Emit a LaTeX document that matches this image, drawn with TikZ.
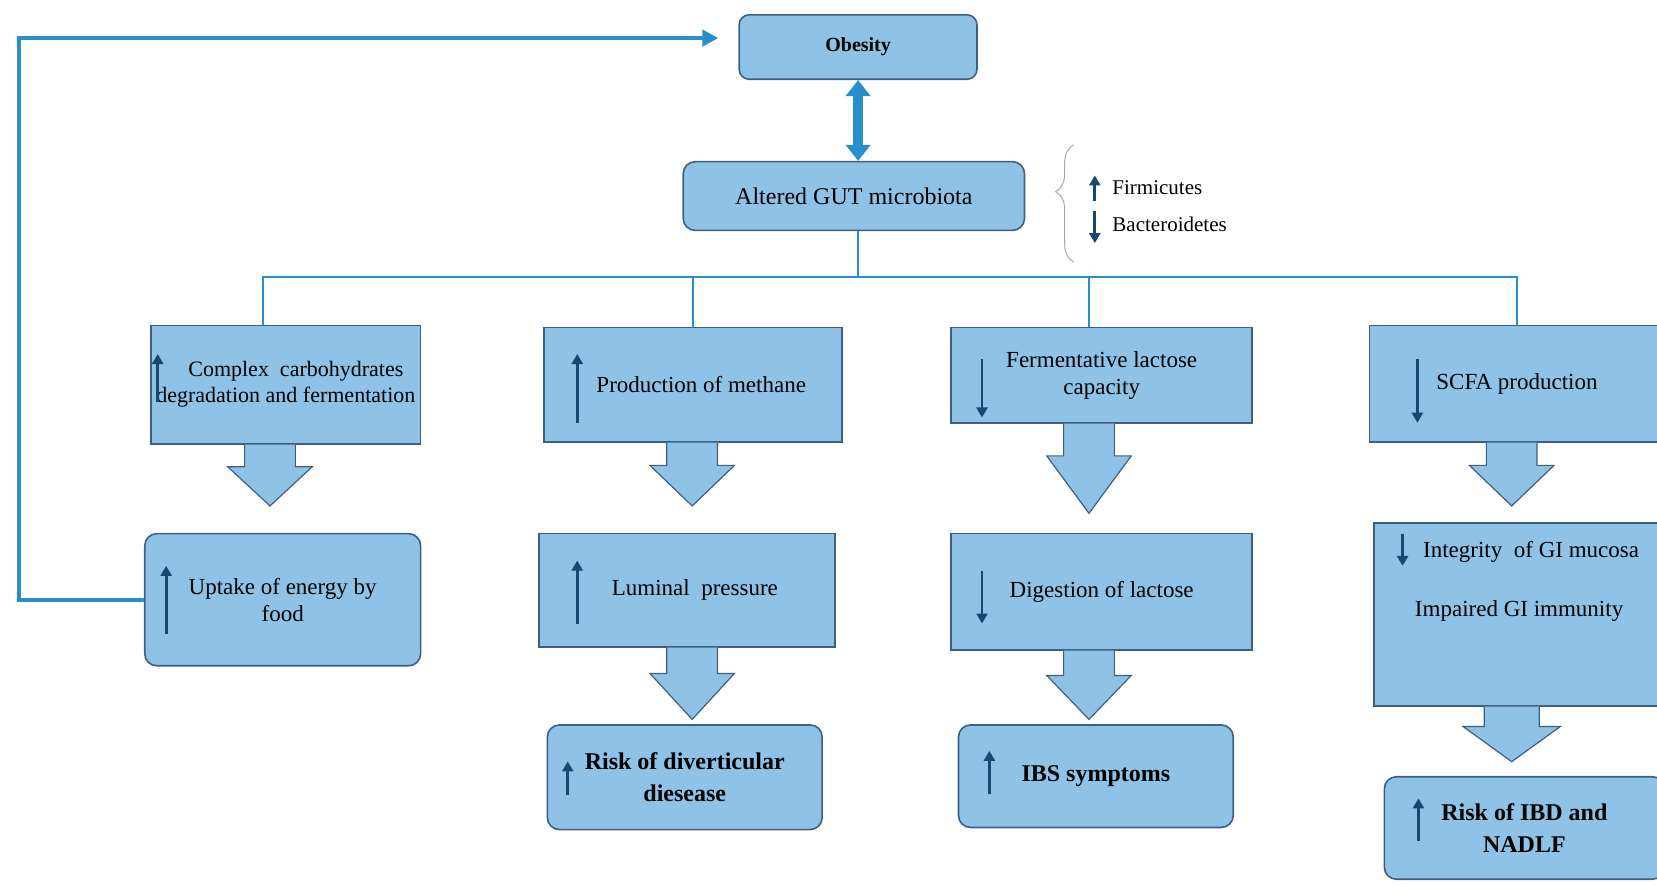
\documentclass[tikz,border=0pt]{standalone}
\usepackage{fontspec}
\setmainfont{Liberation Serif}
\usepackage{xcolor}
\usepackage{tikz}
\usetikzlibrary{positioning,arrows.meta,calc,decorations.pathreplacing}

\definecolor{boxfill}{RGB}{142,194,230}
\definecolor{boxline}{RGB}{62,96,128}
\definecolor{linkblue}{RGB}{40,142,204}
\definecolor{navy}{RGB}{22,72,112}

\def\px{0.5284pt}

\tikzset{
  box/.style={draw=boxline,fill=boxfill,line width=0.8pt,align=center,inner sep=2pt,
    font=\fontsize{11.5}{13.5}\selectfont},
  rbox/.style={box,rounded corners=6pt},
  tree/.style={draw=linkblue,line width=1.1pt},
  feed/.style={draw=linkblue,line width=2pt,-{Triangle[length=8pt,width=8pt]}},
  twoway/.style={draw=linkblue,line width=5pt,{Triangle[length=8pt,width=12pt]}-{Triangle[length=8pt,width=12pt]}},
  upmark/.style={draw=navy,line width=1.4pt,-{Triangle[length=5pt,width=5.5pt]}},
  blockarr/.style={fill=boxfill,draw=boxline,line width=0.6pt}
}

% block arrow under a box: node, x offset, length, shaft and head half widths
\newcommand{\blockarrow}[5]{%
  \begin{scope}[shift={($(#1.south)+(#2,0)$)}]
    \filldraw[blockarr] (-#4,0) -- (-#4,0.36*#3) -- (-#5,0.36*#3) -- (0,#3)
      -- (#5,0.36*#3) -- (#4,0.36*#3) -- (#4,0);
  \end{scope}}

\begin{document}
\begin{tikzpicture}[x=\px,y=-\px]
  \useasboundingbox (0,0) rectangle (1568,837);
  \clip (0,0) rectangle (1568,837);

  % top
  \node[box,rounded corners=5pt,minimum width=225*\px,minimum height=61*\px,
    font=\fontsize{10}{12}\bfseries] (obesity) at (812,44.5) {Obesity};
  \node[box,rounded corners=6pt,minimum width=323*\px,minimum height=65*\px,
    font=\fontsize{12}{14}\selectfont] (altered) at (808,185.5) {Altered GUT microbiota};
  \draw[twoway] (obesity.south) -- (obesity.south |- altered.north);

  % phyla
  \draw[gray!70,line width=0.5pt,decorate,decoration={brace,amplitude=9pt,aspect=0.6}]
    (1016,248) -- (1016,137);
  \node[anchor=west,font=\fontsize{10.5}{12}\selectfont] (firm) at (1046,178) {Firmicutes};
  \node[anchor=west,font=\fontsize{10.5}{12}\selectfont] (bact) at (1046,212) {Bacteroidetes};
  \draw[upmark] ($(firm.west)+(-10,12)$) -- ++(0,-24);
  \draw[upmark] ($(bact.west)+(-10,-12)$) -- ++(0,30);

  % first row
  \node[box,minimum width=255*\px,minimum height=112*\px,font=\fontsize{11}{13}\selectfont]
    (carb) at (270.5,364)
    {\hspace*{10pt}Complex \ carbohydrates\\degradation and fermentation};
  \node[box,minimum width=282*\px,minimum height=108*\px] (meth) at (656,364)
    {\hspace*{8pt}Production of methane};
  \node[box,minimum width=285*\px,minimum height=90*\px] (ferm) at (1042.5,355)
    {Fermentative lactose\\capacity};
  \node[box,minimum width=279*\px,minimum height=110*\px] (scfa) at (1435.5,363)
    {SCFA production};

  \coordinate (bus) at (812,262);
  \draw[tree] (obesity.south |- altered.south) -- (bus);
  \draw[tree] ($(carb.north)+(-22,0)$) |- (bus);
  \draw[tree] (meth.north) |- (bus);
  \draw[tree] ($(ferm.north)+(-12,0)$) |- (bus);
  \draw[tree] (scfa.north) |- (bus);

  \draw[upmark] ($(carb.west)+(7,16)$) -- ++(0,-45);
  \draw[upmark] ($(meth.west)+(32,36)$) -- ++(0,-65);
  \draw[upmark] ($(ferm.west)+(30,-15)$) -- ++(0,55);
  \draw[upmark] ($(scfa.west)+(46,-23)$) -- ++(0,60);

  % second row
  \node[rbox,minimum width=261*\px,minimum height=125*\px] (uptake) at (267.5,567.5)
    {Uptake of energy by\\food};
  \node[box,minimum width=280*\px,minimum height=107*\px] (lumen) at (650,558.5)
    {\hspace*{8pt}Luminal \ pressure};
  \node[box,minimum width=285*\px,minimum height=110*\px] (digest) at (1042.5,560)
    {Digestion of lactose};
  \node[box,minimum width=275*\px,minimum height=173*\px] (integ) at (1437.5,581.5)
    {\hspace*{12pt}Integrity \ of GI mucosa\\[16pt]Impaired GI immunity\\[22pt]\mbox{}};

  \draw[upmark] ($(uptake.west)+(21,32)$) -- ++(0,-64);
  \draw[upmark] ($(lumen.west)+(37,32)$) -- ++(0,-60);
  \draw[upmark] ($(digest.west)+(30,-20)$) -- ++(0,50);
  \draw[upmark] ($(integ.west)+(28,-76)$) -- ++(0,30);

  % third row
  \node[rbox,minimum width=260*\px,minimum height=99*\px,
    font=\fontsize{12}{16}\bfseries] (risk) at (648,735.5)
    {Risk of diverticular\\diesease};
  \node[rbox,minimum width=260*\px,minimum height=97*\px,
    font=\fontsize{12}{16}\bfseries] (ibs) at (1037,734.5) {IBS symptoms};
  \node[rbox,minimum width=265*\px,minimum height=97*\px,
    font=\fontsize{12}{16}\bfseries] (nafld) at (1442.5,783.5)
    {Risk of IBD and\\NADLF};

  \draw[upmark] ($(risk.west)+(20,17)$) -- ++(0,-32);
  \draw[upmark] ($(ibs.west)+(30,17)$) -- ++(0,-41);
  \draw[upmark] ($(nafld.west)+(33,12)$) -- ++(0,-40);

  % block arrows
  \blockarrow{carb}{-15}{58}{24}{40}
  \blockarrow{meth}{-1}{60}{24}{40}
  \blockarrow{ferm}{-12}{85}{24}{40}
  \blockarrow{scfa}{-5}{60}{24}{40}
  \blockarrow{lumen}{5}{68}{24}{40}
  \blockarrow{digest}{-12}{65}{24}{40}
  \blockarrow{integ}{-7}{52}{26}{46}

  % feedback to obesity
  \coordinate (fbcorner) at (18,36);
  \draw[feed,shorten >=10pt] (uptake.west) -| (fbcorner) -- (fbcorner -| obesity.west);
\end{tikzpicture}
\end{document}
